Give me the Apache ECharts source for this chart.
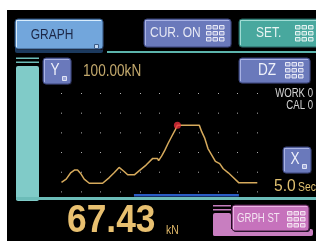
<!DOCTYPE html>
<html lang="en">
<head>
<meta charset="UTF-8">
<title>GRAPH</title>
<style>
  * { margin: 0; padding: 0; }
  html, body { background: #fff; }
  #main { width: 316px; height: 241px; }
</style>
</head>
<body>
<div id="main"></div>
<script src="https://cdn.jsdelivr.net/npm/echarts@6/dist/echarts.min.js"></script>
<script>
// load curve, time in seconds / load in kN
var times = [0, 0.12, 0.24, 0.33, 0.41, 0.50, 0.58, 0.71, 1.05, 1.22, 1.35, 1.47, 1.60, 1.69, 1.86, 1.98,
    2.16, 2.33, 2.45, 2.48, 2.56, 2.64, 2.72, 2.81, 2.90, 2.96, 3.52, 3.58, 3.66, 3.74, 3.83, 3.93,
    4.04, 4.13, 4.26, 4.38, 4.53, 5.0];
var loads = [10, 13.3, 20, 22.5, 22.5, 18.4, 13.3, 9.2, 9.2, 14.9, 20, 25.1, 21, 17.7, 17.7, 21.7,
    27.5, 34.2, 34.2, 32, 36.7, 42.5, 49.2, 56, 62.7, 67.43, 67.43, 61.1, 54.3, 44.1, 38, 31.2,
    28.9, 23.8, 19.7, 15.3, 9.6, 9.6];
// peak marker
var peakTimes = [2.96];
var peakLoads = [67.43];
// blue range bar under the curve
var rangeTimes = [1.85, 4.53];
var rangeLevels = [-2.8, -2.8];
// axis ranges
var timeMin = 0, timeMax = 5, timeStep = 0.5;
var loadMin = 0, loadMax = 100, loadStep = 20;
// screen texts
var fullScaleText = '100.00kN';
var timeScaleText = '5.0';
var peakText = '67.43';

// no narrow font installed, so squeeze Liberation Sans sideways
var FN = '"Liberation Sans",Arial,sans-serif';
var NARROW = 0.8;

function zip(a, b) {
    var res = [];
    for (var i = 0; i < a.length; i++) res.push([a[i], b[i]]);
    return res;
}

function txt(x, y, s, size, color, align, weight, sx) {
    return {
        type: 'text', x: x, y: y, z: 10,
        scaleX: sx || NARROW,
        style: {
            text: s, fill: color,
            font: (weight || 'normal') + ' ' + size + 'px ' + FN,
            align: align || 'left', textAlign: align || 'left',
            verticalAlign: 'middle', textVerticalAlign: 'middle'
        }
    };
}

function rect(x, y, w, h, fill, r) {
    return { type: 'rect', z: 5, shape: { x: x, y: y, width: w, height: h, r: r || 0 }, style: { fill: fill } };
}

function button(x, y, w, h, fill, hi, lo) {
    return [
        { type: 'rect', z: 5, shape: { x: x + 1, y: y + 1, width: w, height: h, r: 3 }, style: { fill: '#10101c' } },
        { type: 'rect', z: 6, shape: { x: x, y: y, width: w, height: h, r: 3 }, style: { fill: fill, stroke: lo, lineWidth: 1 } },
        { type: 'polyline', z: 7, shape: { points: [[x + 1.5, y + h - 2], [x + 1.5, y + 1.5], [x + w - 2, y + 1.5]] },
          style: { stroke: hi, lineWidth: 1, fill: null } }
    ];
}

// little 3x3 key pad icon on the buttons
function pad(x, y, stroke, fill) {
    var res = [];
    for (var i = 0; i < 3; i++) {
        for (var j = 0; j < 3; j++) {
            res.push({ type: 'rect', z: 8, shape: { x: x + i * 6.5 + 0.5, y: y + j * 6 + 0.5, width: 4.5, height: 3.5 },
                style: { fill: fill, stroke: stroke, lineWidth: 1 } });
        }
    }
    return res;
}

function subBox(x, y) {
    return { type: 'rect', z: 8, shape: { x: x + 0.5, y: y + 0.5, width: 4, height: 4 }, style: { fill: '#9aa4d8', stroke: '#e0e4f4', lineWidth: 1 } };
}

var BLUE = '#6a79bb', BLUE_HI = '#a8b2e4', BLUE_LO = '#3a4478';
var graphic = [].concat(
    // white margins
    [rect(0, 0, 316, 10, '#fff'), rect(0, 0, 7, 241, '#fff')],
    // top row
    [rect(15, 47, 88, 6, '#1c3a5e', 2)],
    button(15, 19, 88, 30, '#72a6dc', '#d8ecfc', '#2c4c74'),
    [txt(52, 35, 'GRAPH', 15, '#1c2848', 'center'),
     { type: 'rect', z: 8, shape: { x: 94.5, y: 44.5, width: 4, height: 4 }, style: { fill: '#c8dcf4', stroke: '#3c5c88', lineWidth: 1 } }],
    button(144, 19, 87, 28, BLUE, BLUE_HI, BLUE_LO),
    [txt(150, 33, 'CUR. ON', 15, '#e6e8f4')],
    pad(206, 25, '#e8eaf6', '#8c96cc'),
    button(239, 19, 82, 28, '#48a89e', '#a0dcd4', '#24605a'),
    [txt(256, 33, 'SET.', 15, '#e6f4f2')],
    pad(295, 25, '#e6f4f2', '#70bcb4'),
    [rect(107, 51, 209, 2, '#5cb4ac')],
    // left teal frame
    [rect(16, 57.5, 23, 1.5, '#6cbcb8'), rect(16, 61.5, 23, 1.5, '#6cbcb8'),
     rect(16, 66, 23, 135, '#80cbc8', 2), rect(16, 197, 300, 3, '#6cbcb8')],
    // plot side buttons and labels
    button(43, 58, 28, 26, BLUE, BLUE_HI, BLUE_LO),
    [txt(55, 70, 'Y', 17, '#eef0fa', 'center'), subBox(62, 76)],
    [txt(83, 71, fullScaleText, 17, '#c2a86c')],
    button(239, 58, 71, 25, BLUE, BLUE_HI, BLUE_LO),
    [txt(258, 70.5, 'DZ', 17, '#eef0fa')],
    pad(285, 62, '#e8eaf6', '#8c96cc'),
    [txt(313, 94, 'WORK 0', 12, '#d4d4d4', 'right'), txt(313, 106, 'CAL 0', 12, '#d4d4d4', 'right')],
    button(283, 147, 28, 26, BLUE, BLUE_HI, BLUE_LO),
    [txt(295, 159, 'X', 17, '#eef0fa', 'center'), subBox(302, 164)],
    [txt(274, 186, timeScaleText, 17, '#e0c070', 'left', 'normal', 0.92), txt(298, 187.5, 'Sec', 13, '#e0c070')],
    // bottom row
    [txt(67, 221.5, peakText, 38, '#e8c070', 'left', 'bold', 0.93),
     txt(166, 230, 'kN', 13, '#e0b868')],
    [rect(213, 205, 18, 1.5, '#c47cbc'), rect(213, 209, 18, 1.5, '#c47cbc'),
     rect(213, 213, 18, 23, '#c87ec0', 2), rect(213, 229, 100, 7, '#c87ec0', 2)],
    button(232, 205, 77, 26, '#c672bc', '#ecb4e4', '#4a1c44'),
    [txt(237, 218.5, 'GRPH ST', 12, '#f4e4f2')],
    pad(287, 211, '#f4e4f2', '#d89cd0')
);

var chart = echarts.init(document.getElementById('main'));
chart.setOption({
    animation: false,
    backgroundColor: '#000',
    graphic: { elements: graphic },
    grid: { left: 61.5, right: 58.7, top: 93, bottom: 48.6 },
    xAxis: {
        type: 'value', min: timeMin, max: timeMax, interval: timeStep,
        axisLine: { show: false }, axisTick: { show: false }, axisLabel: { show: false },
        splitLine: { show: true, lineStyle: { color: '#b0b0b0', width: 1, type: [1, 18.68] } }
    },
    yAxis: {
        type: 'value', min: loadMin, max: loadMax, interval: loadStep,
        axisLine: { show: false }, axisTick: { show: false }, axisLabel: { show: false },
        splitLine: { show: false }
    },
    series: [
        {
            type: 'line', data: zip(times, loads), showSymbol: false, z: 3,
            lineStyle: { color: '#d6aa5c', width: 1.5 }
        },
        {
            type: 'line', data: zip(rangeTimes, rangeLevels), showSymbol: false, clip: false, z: 3,
            lineStyle: { color: '#2b5cc4', width: 2.5 }
        },
        {
            type: 'scatter', data: zip(peakTimes, peakLoads), symbolSize: 7, z: 5,
            itemStyle: { color: '#e8303c' }
        }
    ]
});
</script>
</body>
</html>
